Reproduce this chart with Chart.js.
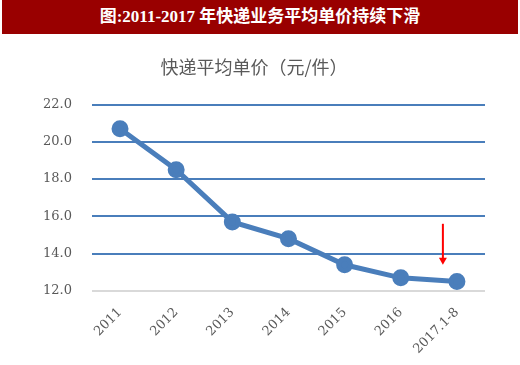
<!DOCTYPE html>
<html lang="zh">
<head>
  <meta charset="UTF-8">
  <title>快递平均单价</title>
  <script src="https://cdn.jsdelivr.net/npm/chart.js"></script>
  <style>
    body { margin: 0; background: #fff; }
    #banner {
      margin: 0 2px; height: 34px; line-height: 34px;
      background: #990000; color: #fff; text-align: center;
      font-family: "Liberation Serif", "Noto Sans CJK SC", serif;
      font-weight: bold; font-size: 17px;
    }
    #wrap { width: 520px; height: 331px; }
  </style>
</head>
<body>
  <div id="banner">图:2011-2017 年快递业务平均单价持续下滑</div>
  <div id="wrap"><canvas id="myChart"></canvas></div>

  <script>
    // data
    var years = ['2011', '2012', '2013', '2014', '2015', '2016', '2017.1-8'];
    var prices = [20.7, 18.5, 15.7, 14.8, 13.4, 12.7, 12.5];
    var yTicks = [12, 14, 16, 18, 20, 22];

    // red arrow pointing at the latest value (in data units)
    var arrowX = 5.75;
    var arrowFrom = 15.6;
    var arrowTo = 13.4;

    var arrowPlugin = {
      id: 'arrow',
      afterDatasetsDraw: function(chart) {
        var ctx = chart.ctx;
        var x = chart.scales.x.getPixelForValue(arrowX);
        var y1 = chart.scales.y.getPixelForValue(arrowFrom);
        var y2 = chart.scales.y.getPixelForValue(arrowTo);
        ctx.save();
        ctx.strokeStyle = '#ff0000';
        ctx.fillStyle = '#ff0000';
        ctx.lineWidth = 2;
        ctx.beginPath();
        ctx.moveTo(x, y1);
        ctx.lineTo(x, y2 - 6);
        ctx.stroke();
        ctx.beginPath();
        ctx.moveTo(x - 4, y2 - 7);
        ctx.lineTo(x + 4, y2 - 7);
        ctx.lineTo(x, y2);
        ctx.closePath();
        ctx.fill();
        ctx.restore();
      }
    };

    var ctx = document.getElementById('myChart').getContext('2d');
    var myChart = new Chart(ctx, {
      type: 'line',
      data: {
        labels: years,
        datasets: [{
          data: prices,
          borderColor: '#4a7ebb',
          backgroundColor: '#4a7ebb',
          borderWidth: 5,
          pointRadius: 6,
          pointHoverRadius: 6,
          tension: 0
        }]
      },
      options: {
        maintainAspectRatio: false,
        animation: false,
        layout: { padding: { left: 23, right: 35, bottom: 2 } },
        plugins: {
          legend: { display: false },
          tooltip: { enabled: false },
          title: {
            display: true,
            text: '快递平均单价（元/件）',
            color: '#595959',
            font: { family: 'Noto Sans CJK SC', size: 18, weight: 'normal' },
            padding: { top: 22, bottom: 27 }
          }
        },
        scales: {
          x: {
            offset: true,
            grid: { display: false },
            border: { display: false },
            ticks: {
              color: '#595959',
              font: { family: 'DejaVu Serif', size: 13 },
              minRotation: 45,
              maxRotation: 45,
              padding: 6
            }
          },
          y: {
            min: 12,
            max: 22,
            afterBuildTicks: function(axis) {
              axis.ticks = yTicks.map(function(v) { return { value: v }; });
            },
            border: { display: false },
            grid: {
              drawTicks: false,
              lineWidth: 2,
              color: function(c) {
                return c.tick && c.tick.value === 12 ? '#d9d9d9' : '#4a7ebb';
              }
            },
            ticks: {
              color: '#595959',
              font: { family: 'DejaVu Serif', size: 13 },
              padding: 20,
              callback: function(v) { return v.toFixed(1); }
            }
          }
        }
      },
      plugins: [arrowPlugin]
    });
  </script>
</body>
</html>
